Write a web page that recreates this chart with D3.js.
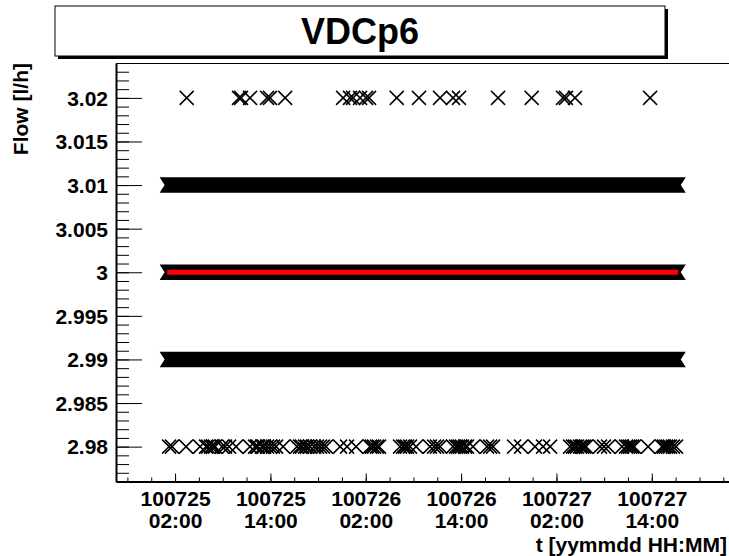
<!DOCTYPE html>
<html>
<head>
<meta charset="utf-8">
<script src="https://cdn.jsdelivr.net/npm/d3@7"></script>
<style>
  body { margin: 0; background: #fff; }
  svg { display: block; }
  text { font-family: "Liberation Sans", Arial, Helvetica, sans-serif; font-weight: bold; fill: #000; }
</style>
</head>
<body>
<svg id="chart" width="729" height="556"></svg>
<script>
// ---- chart data ------------------------------------------------------------
const chartTitle = "VDCp6";
const yTitle = "Flow [l/h]";
const xTitle = "t [yymmdd HH:MM]";
const timeFormat = "%y%m%d %H:%M";

const xDomain = ["100724 18:34", "100728 01:06"];
const yDomain = [2.976, 3.024];

const yTickValues = [2.98, 2.985, 2.99, 2.995, 3, 3.005, 3.01, 3.015, 3.02];
const yMinorStep = 0.001;
const xTickValues = ["100725 02:00", "100725 14:00", "100726 02:00",
                     "100726 14:00", "100727 02:00", "100727 14:00"];
const xMinorStepHours = 3;

// flow levels read out continuously over the whole run
const continuousLevels = [3.01, 3.00, 2.99];
const runStart = "100725 01:00";
const runEnd = "100727 17:20";

// occasional readings at 3.02 l/h
const times302 = [
  "100725 03:28", "100725 10:03", "100725 10:18", "100725 11:26", "100725 13:35",
  "100725 13:57", "100725 15:51", "100725 23:09", "100726 00:01", "100726 00:24",
  "100726 01:17", "100726 02:02", "100726 02:25", "100726 05:54", "100726 08:42",
  "100726 11:21", "100726 12:59", "100726 13:44", "100726 18:39", "100726 22:53",
  "100727 02:50", "100727 03:12", "100727 04:20", "100727 13:47"
];

// readings at 2.98 l/h
const times298 = [
  "100725 01:15", "100725 01:37", "100725 03:23", "100725 05:09", "100725 05:54",
  "100725 06:09", "100725 06:32", "100725 06:47", "100725 07:02", "100725 07:55",
  "100725 08:17", "100725 08:48", "100725 09:41", "100725 11:26", "100725 12:04",
  "100725 12:19", "100725 12:27", "100725 12:57", "100725 13:12", "100725 13:35",
  "100725 13:57", "100725 14:20", "100725 14:43", "100725 15:36", "100725 17:21",
  "100725 17:44", "100725 17:59", "100725 18:22", "100725 18:37", "100725 18:59",
  "100725 19:30", "100725 19:52", "100725 20:15", "100725 20:37", "100725 21:00",
  "100725 22:46", "100725 23:39", "100726 00:47", "100726 02:32", "100726 02:47",
  "100726 03:03", "100726 03:25", "100726 03:40", "100726 06:19", "100726 06:42",
  "100726 06:57", "100726 07:12", "100726 07:34", "100726 08:20", "100726 10:05",
  "100726 10:36", "100726 10:58", "100726 11:21", "100726 12:59", "100726 13:22",
  "100726 13:37", "100726 13:52", "100726 14:07", "100726 14:30", "100726 14:45",
  "100726 15:30", "100726 17:16", "100726 17:39", "100726 18:01", "100726 20:40",
  "100726 21:33", "100726 23:18", "100727 00:19", "100727 01:12", "100727 03:43",
  "100727 04:05", "100727 04:20", "100727 04:36", "100727 04:58", "100727 05:13",
  "100727 05:28", "100727 05:43", "100727 07:29", "100727 07:59", "100727 08:30",
  "100727 10:15", "100727 10:45", "100727 11:01", "100727 11:16", "100727 11:31",
  "100727 11:46", "100727 13:32", "100727 15:17", "100727 15:32", "100727 15:48",
  "100727 16:03", "100727 16:18", "100727 16:40", "100727 17:03"
];

// constant fit over the run
const fitFlow = 3.0;

// ---- layout ---------------------------------------------------------------
const frame = { left: 116, top: 63, right: 740, bottom: 481.5 };
const markerHalf = 7;
const fontSize = "21px";

const parse = d3.utcParse(timeFormat);
const svg = d3.select("#chart");

const x = d3.scaleUtc().domain(xDomain.map(parse)).range([frame.left, frame.right]);
const y = d3.scaleLinear().domain(yDomain).range([frame.bottom, frame.top]);

// ---- title box --------------------------------------------------------------
const tb = { x: 55, y: 6, w: 610, h: 50, shadow: 3 };
svg.append("rect")
  .attr("x", tb.x + tb.shadow).attr("y", tb.y + tb.shadow)
  .attr("width", tb.w).attr("height", tb.h)
  .attr("fill", "#000");
svg.append("rect")
  .attr("x", tb.x).attr("y", tb.y)
  .attr("width", tb.w).attr("height", tb.h)
  .attr("fill", "#fff").attr("stroke", "#000").attr("stroke-width", 1);
svg.append("text")
  .attr("x", tb.x + tb.w / 2).attr("y", tb.y + tb.h / 2 + 13)
  .attr("text-anchor", "middle")
  .style("font-size", "36px")
  .text(chartTitle);

// ---- frame top edge ---------------------------------------------------------
svg.append("line")
  .attr("x1", frame.left).attr("x2", frame.right)
  .attr("y1", frame.top + 0.5).attr("y2", frame.top + 0.5)
  .attr("stroke", "#000").attr("stroke-width", 1);

const plot = svg.append("g");

// ---- continuous levels: a solid run of overlapping crosses ----------------
const t0 = parse(runStart), t1 = parse(runEnd);
const notch = 5;
plot.selectAll("path.run")
  .data(continuousLevels)
  .join("path")
  .attr("class", "run")
  .attr("fill", "#000")
  .attr("d", v => {
    const x0 = x(t0) - markerHalf - 0.5, x1 = x(t1) + markerHalf + 0.5;
    const yc = y(v), h = markerHalf + 0.7;
    return `M${x0},${yc - h}L${x1},${yc - h}L${x1 - notch},${yc}L${x1},${yc + h}` +
           `L${x0},${yc + h}L${x0 + notch},${yc}Z`;
  });

// ---- individual readings ---------------------------------------------------
const crossPath = `M${-markerHalf},${-markerHalf}L${markerHalf},${markerHalf}` +
                  `M${-markerHalf},${markerHalf}L${markerHalf},${-markerHalf}`;
const points = [
  ...times302.map(t => ({ t: parse(t), v: 3.02 })),
  ...times298.map(t => ({ t: parse(t), v: 2.98 }))
];
plot.selectAll("path.pt")
  .data(points)
  .join("path")
  .attr("class", "pt")
  .attr("transform", d => `translate(${x(d.t)},${y(d.v)})`)
  .attr("d", crossPath)
  .attr("fill", "none")
  .attr("stroke", "#000")
  .attr("stroke-width", 1.5);

// ---- fit line -------------------------------------------------------------
plot.append("line")
  .attr("x1", x(t0)).attr("x2", x(t1))
  .attr("y1", y(fitFlow)).attr("y2", y(fitFlow))
  .attr("stroke", "#ff0000").attr("stroke-width", 5);

// ---- y axis -----------------------------------------------------------------
const fmtY = d => String(+d.toFixed(3));
const yMinor = d3.range(Math.ceil(yDomain[0] / yMinorStep), Math.floor(yDomain[1] / yMinorStep) + 1)
  .map(k => +(k * yMinorStep).toFixed(3));

const yMinorG = svg.append("g").attr("transform", `translate(${frame.left},0)`)
  .call(d3.axisLeft(y).tickValues(yMinor).tickSize(-13).tickSizeOuter(0).tickFormat(""));
yMinorG.select(".domain").remove();

const yG = svg.append("g").attr("transform", `translate(${frame.left},0)`)
  .call(d3.axisLeft(y).tickValues(yTickValues).tickSize(-26).tickSizeOuter(0)
        .tickPadding(8).tickFormat(fmtY));
yG.select(".domain").attr("stroke-width", 2);
yG.selectAll("text").style("font-size", fontSize).attr("dy", "0.35em");

svg.append("text")
  .attr("transform", `translate(28,${frame.top}) rotate(-90)`)
  .attr("text-anchor", "end")
  .style("font-size", fontSize)
  .text(yTitle);

// ---- x axis -----------------------------------------------------------------
const hourMs = 3600 * 1000;
const firstMajor = parse(xTickValues[0]).getTime();
const xd = x.domain();
const xMinor = d3.range(Math.ceil((xd[0] - firstMajor) / (xMinorStepHours * hourMs)),
                        Math.floor((xd[1] - firstMajor) / (xMinorStepHours * hourMs)) + 1)
  .map(k => new Date(firstMajor + k * xMinorStepHours * hourMs));

const xMinorG = svg.append("g").attr("transform", `translate(0,${frame.bottom})`)
  .call(d3.axisBottom(x).tickValues(xMinor).tickSize(-4).tickSizeOuter(0).tickFormat(""));
xMinorG.select(".domain").remove();

const fmtDay = d3.utcFormat("%y%m%d"), fmtHour = d3.utcFormat("%H:%M");
const xG = svg.append("g").attr("transform", `translate(0,${frame.bottom})`)
  .call(d3.axisBottom(x).tickValues(xTickValues.map(parse)).tickSize(-8).tickSizeOuter(0)
        .tickPadding(0).tickFormat(""));
xG.select(".domain").attr("stroke-width", 2);
xG.selectAll(".tick").each(function (d) {
  const t = d3.select(this).select("text").text(null).attr("y", 0).attr("dy", null)
    .style("font-size", fontSize);
  t.append("tspan").attr("x", 0).attr("y", 24.5).text(fmtDay(d));
  t.append("tspan").attr("x", 0).attr("y", 46).text(fmtHour(d));
});
svg.selectAll(".tick line").attr("stroke", "#000").attr("stroke-width", 1);

svg.append("text")
  .attr("x", 727).attr("y", 551.5)
  .attr("text-anchor", "end")
  .style("font-size", fontSize)
  .text(xTitle);
</script>
</body>
</html>
